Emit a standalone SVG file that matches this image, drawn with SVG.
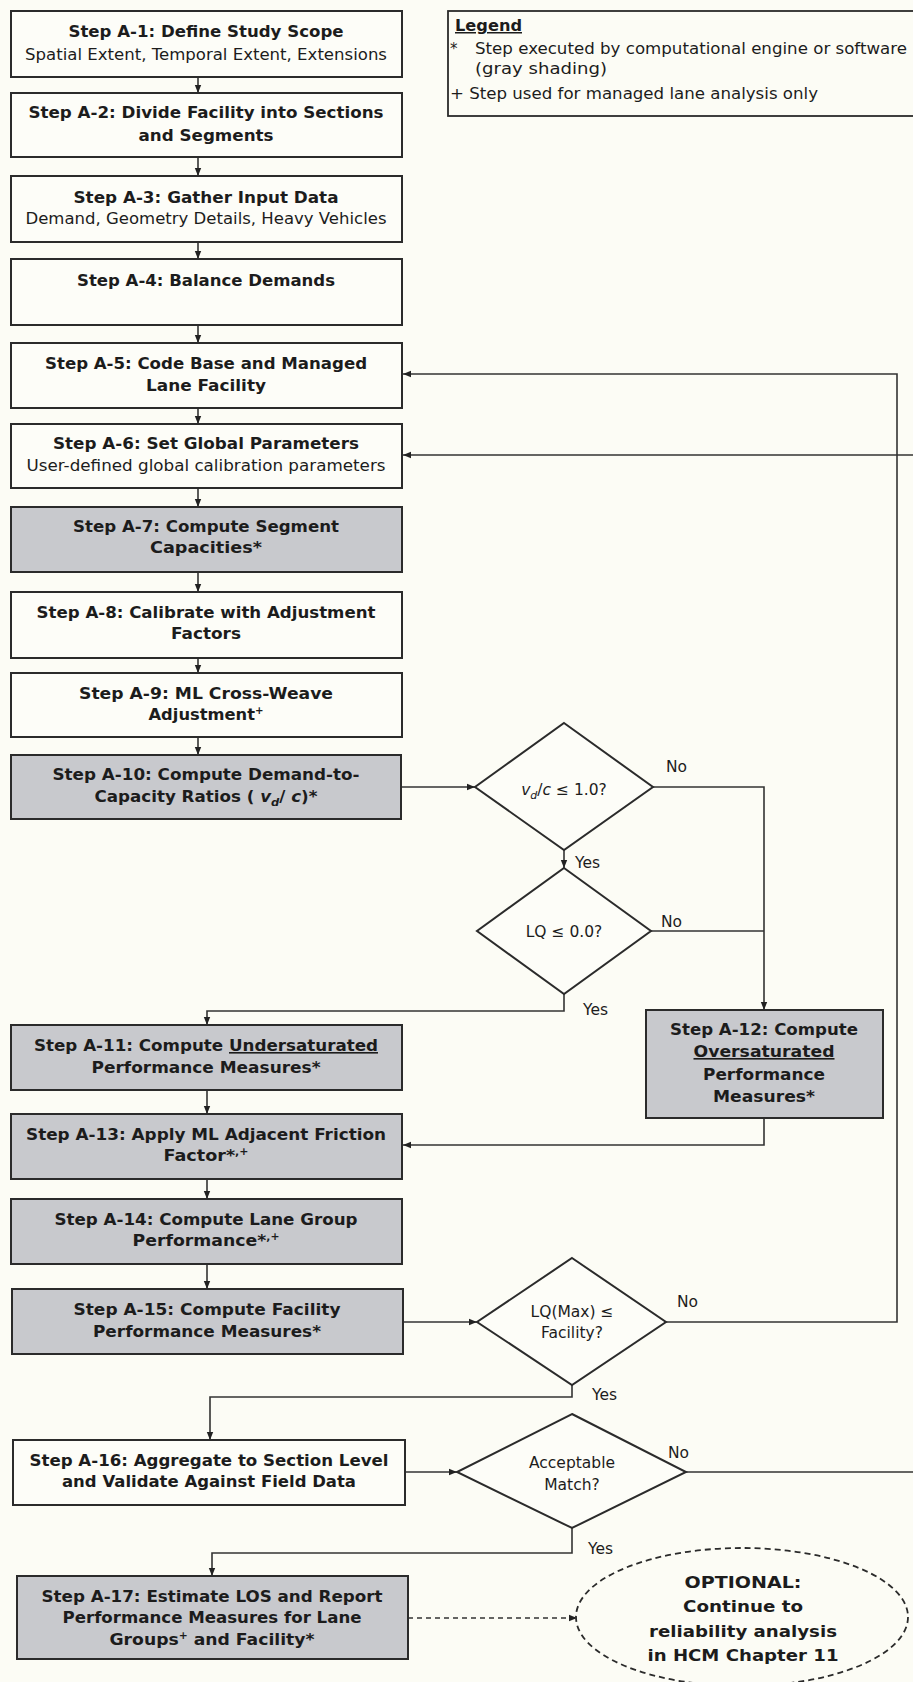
<svg xmlns="http://www.w3.org/2000/svg" width="913" height="1682" viewBox="0 0 913 1682">
<style>
.box{stroke:#2b2b2b;stroke-width:2}
.w{fill:#fdfdf8}
.g{fill:#c8c9cd}
.t{font-family:"DejaVu Sans",Verdana,sans-serif;font-size:16px;font-weight:bold;fill:#1c1c1c;text-anchor:middle}
.r{font-weight:normal;font-size:15px}
.lbl{font-family:"DejaVu Sans",Verdana,sans-serif;font-size:15.5px;fill:#1c1c1c}
.dt{font-family:"DejaVu Sans",Verdana,sans-serif;font-size:15.5px;fill:#1c1c1c;text-anchor:middle}
.lg{font-family:"DejaVu Sans",Verdana,sans-serif;font-size:15px;fill:#1c1c1c}
.conn{fill:none;stroke:#333;stroke-width:1.6}
.dash{stroke-dasharray:5 4}
.sup{font-size:10px}
.it{font-style:italic}
</style>
<defs>
<marker id="ah" viewBox="0 0 10 10" refX="10" refY="5" markerWidth="8" markerHeight="8" orient="auto" markerUnits="userSpaceOnUse">
<path d="M0,1 L10,5 L0,9 z" fill="#222"/>
</marker>
</defs>
<rect x="0" y="0" width="913" height="1682" fill="#fcfcf5"/>

<g id="legend">
<rect x="448" y="11" width="490" height="105" fill="none" stroke="#2b2b2b" stroke-width="1.8"/>
<text class="lg" x="455" y="31" font-weight="bold" text-decoration="underline" textLength="67" lengthAdjust="spacingAndGlyphs">Legend</text>
<text class="lg" x="450" y="54">*</text>
<text class="lg" x="475" y="54" textLength="432" lengthAdjust="spacingAndGlyphs">Step executed by computational engine or software</text>
<text class="lg" x="475" y="74" textLength="132" lengthAdjust="spacingAndGlyphs">(gray shading)</text>
<text class="lg" x="450" y="99" textLength="368" lengthAdjust="spacingAndGlyphs">+ Step used for managed lane analysis only</text>
</g>

<g id="connectors">
<path class="conn" d="M198,77 V93" marker-end="url(#ah)"/>
<path class="conn" d="M198,157 V176" marker-end="url(#ah)"/>
<path class="conn" d="M198,242 V259" marker-end="url(#ah)"/>
<path class="conn" d="M198,325 V343" marker-end="url(#ah)"/>
<path class="conn" d="M198,408 V424" marker-end="url(#ah)"/>
<path class="conn" d="M198,488 V507" marker-end="url(#ah)"/>
<path class="conn" d="M198,572 V592" marker-end="url(#ah)"/>
<path class="conn" d="M198,658 V673" marker-end="url(#ah)"/>
<path class="conn" d="M198,737 V755" marker-end="url(#ah)"/>
<path class="conn" d="M401,787 H475" marker-end="url(#ah)"/>
<path class="conn" d="M653,787 H764 V1010" marker-end="url(#ah)"/>
<path class="conn" d="M564,850 V868" marker-end="url(#ah)"/>
<path class="conn" d="M651,931 H764"/>
<path class="conn" d="M564,994 V1011 H207 V1025" marker-end="url(#ah)"/>
<path class="conn" d="M207,1090 V1114" marker-end="url(#ah)"/>
<path class="conn" d="M764,1118 V1145 H403" marker-end="url(#ah)"/>
<path class="conn" d="M207,1179 V1199" marker-end="url(#ah)"/>
<path class="conn" d="M207,1264 V1289" marker-end="url(#ah)"/>
<path class="conn" d="M403,1322 H477" marker-end="url(#ah)"/>
<path class="conn" d="M666,1322 H897 V374 H403" marker-end="url(#ah)"/>
<path class="conn" d="M686,1472 H918 V455 H403" marker-end="url(#ah)"/>
<path class="conn" d="M572,1385 V1397 H210 V1440" marker-end="url(#ah)"/>
<path class="conn" d="M405,1472 H457" marker-end="url(#ah)"/>
<path class="conn" d="M572,1528 V1553 H212 V1576" marker-end="url(#ah)"/>
<path class="conn dash" d="M408,1618 H577" marker-end="url(#ah)"/>
<text class="lbl" x="666" y="772">No</text>
<text class="lbl" x="575" y="868">Yes</text>
<text class="lbl" x="661" y="927">No</text>
<text class="lbl" x="583" y="1015">Yes</text>
<text class="lbl" x="677" y="1307">No</text>
<text class="lbl" x="592" y="1400">Yes</text>
<text class="lbl" x="668" y="1458">No</text>
<text class="lbl" x="588" y="1554">Yes</text>
</g>

<g id="a1">
<rect class="box w" x="11" y="11" width="391" height="66"/>
<text class="t" x="206" y="37" textLength="275" lengthAdjust="spacingAndGlyphs">Step A-1: Define Study Scope</text>
<text class="t r" x="206" y="60" textLength="362" lengthAdjust="spacingAndGlyphs">Spatial Extent, Temporal Extent, Extensions</text>
</g>
<g id="a2">
<rect class="box w" x="11" y="93" width="391" height="64"/>
<text class="t" x="206" y="118" textLength="355" lengthAdjust="spacingAndGlyphs">Step A-2: Divide Facility into Sections</text>
<text class="t" x="206" y="141" textLength="135" lengthAdjust="spacingAndGlyphs">and Segments</text>
</g>
<g id="a3">
<rect class="box w" x="11" y="176" width="391" height="66"/>
<text class="t" x="206" y="203" textLength="265" lengthAdjust="spacingAndGlyphs">Step A-3: Gather Input Data</text>
<text class="t r" x="206" y="224" textLength="361" lengthAdjust="spacingAndGlyphs">Demand, Geometry Details, Heavy Vehicles</text>
</g>
<g id="a4">
<rect class="box w" x="11" y="259" width="391" height="66"/>
<text class="t" x="206" y="286" textLength="258" lengthAdjust="spacingAndGlyphs">Step A-4: Balance Demands</text>
</g>
<g id="a5">
<rect class="box w" x="11" y="343" width="391" height="65"/>
<text class="t" x="206" y="369" textLength="322" lengthAdjust="spacingAndGlyphs">Step A-5: Code Base and Managed</text>
<text class="t" x="206" y="391" textLength="120" lengthAdjust="spacingAndGlyphs">Lane Facility</text>
</g>
<g id="a6">
<rect class="box w" x="11" y="424" width="391" height="64"/>
<text class="t" x="206" y="449" textLength="306" lengthAdjust="spacingAndGlyphs">Step A-6: Set Global Parameters</text>
<text class="t r" x="206" y="471" textLength="359" lengthAdjust="spacingAndGlyphs">User-defined global calibration parameters</text>
</g>
<g id="a7">
<rect class="box g" x="11" y="507" width="391" height="65"/>
<text class="t" x="206" y="532" textLength="266" lengthAdjust="spacingAndGlyphs">Step A-7: Compute Segment</text>
<text class="t" x="206" y="553" textLength="112" lengthAdjust="spacingAndGlyphs">Capacities*</text>
</g>
<g id="a8">
<rect class="box w" x="11" y="592" width="391" height="66"/>
<text class="t" x="206" y="618" textLength="339" lengthAdjust="spacingAndGlyphs">Step A-8: Calibrate with Adjustment</text>
<text class="t" x="206" y="639" textLength="70" lengthAdjust="spacingAndGlyphs">Factors</text>
</g>
<g id="a9">
<rect class="box w" x="11" y="673" width="391" height="64"/>
<text class="t" x="206" y="699" textLength="254" lengthAdjust="spacingAndGlyphs">Step A-9: ML Cross-Weave</text>
<text class="t" x="206" y="720" textLength="115" lengthAdjust="spacingAndGlyphs">Adjustment<tspan class="sup" dy="-6">+</tspan></text>
</g>
<g id="a10">
<rect class="box g" x="11" y="755" width="390" height="64"/>
<text class="t" x="206" y="780" textLength="307" lengthAdjust="spacingAndGlyphs">Step A-10: Compute Demand-to-</text>
<text class="t" x="206" y="802" textLength="223" lengthAdjust="spacingAndGlyphs">Capacity Ratios ( <tspan class="it">v</tspan><tspan class="it" font-size="11" dy="4">d</tspan><tspan dy="-4">/ </tspan><tspan class="it">c</tspan>)*</text>
</g>

<g id="d1">
<polygon class="box w" points="564,723 653,787 564,850 475,787"/>
<text class="dt" x="564" y="795"><tspan class="it">v</tspan><tspan class="it" font-size="11" dy="4">d</tspan><tspan dy="-4">/</tspan><tspan class="it">c</tspan> ≤ 1.0?</text>
</g>
<g id="d2">
<polygon class="box w" points="564,868 651,931 564,994 477,931"/>
<text class="dt" x="564" y="937">LQ ≤ 0.0?</text>
</g>

<g id="a11">
<rect class="box g" x="11" y="1025" width="391" height="65"/>
<text class="t" x="206" y="1051" textLength="344" lengthAdjust="spacingAndGlyphs">Step A-11: Compute <tspan text-decoration="underline">Undersaturated</tspan></text>
<text class="t" x="206" y="1073" textLength="229" lengthAdjust="spacingAndGlyphs">Performance Measures*</text>
</g>
<g id="a12">
<rect class="box g" x="646" y="1010" width="237" height="108"/>
<text class="t" x="764" y="1035" textLength="188" lengthAdjust="spacingAndGlyphs">Step A-12: Compute</text>
<text class="t" x="764" y="1057" textLength="141" lengthAdjust="spacingAndGlyphs" text-decoration="underline">Oversaturated</text>
<text class="t" x="764" y="1080" textLength="122" lengthAdjust="spacingAndGlyphs">Performance</text>
<text class="t" x="764" y="1102" textLength="102" lengthAdjust="spacingAndGlyphs">Measures*</text>
</g>
<g id="a13">
<rect class="box g" x="11" y="1114" width="391" height="65"/>
<text class="t" x="206" y="1140" textLength="360" lengthAdjust="spacingAndGlyphs">Step A-13: Apply ML Adjacent Friction</text>
<text class="t" x="206" y="1161" textLength="85" lengthAdjust="spacingAndGlyphs">Factor*<tspan class="sup" dy="-6">,+</tspan></text>
</g>
<g id="a14">
<rect class="box g" x="11" y="1199" width="391" height="65"/>
<text class="t" x="206" y="1225" textLength="303" lengthAdjust="spacingAndGlyphs">Step A-14: Compute Lane Group</text>
<text class="t" x="206" y="1246" textLength="147" lengthAdjust="spacingAndGlyphs">Performance*<tspan class="sup" dy="-6">,+</tspan></text>
</g>
<g id="a15">
<rect class="box g" x="12" y="1289" width="391" height="65"/>
<text class="t" x="207" y="1315" textLength="267" lengthAdjust="spacingAndGlyphs">Step A-15: Compute Facility</text>
<text class="t" x="207" y="1337" textLength="228" lengthAdjust="spacingAndGlyphs">Performance Measures*</text>
</g>
<g id="d3">
<polygon class="box w" points="572,1258 666,1322 572,1385 477,1322"/>
<text class="dt" x="572" y="1317">LQ(Max) ≤</text>
<text class="dt" x="572" y="1338">Facility?</text>
</g>
<g id="a16">
<rect class="box w" x="13" y="1440" width="392" height="65"/>
<text class="t" x="209" y="1466" textLength="359" lengthAdjust="spacingAndGlyphs">Step A-16: Aggregate to Section Level</text>
<text class="t" x="209" y="1487" textLength="294" lengthAdjust="spacingAndGlyphs">and Validate Against Field Data</text>
</g>
<g id="d4">
<polygon class="box w" points="572,1414 686,1472 572,1528 457,1472"/>
<text class="dt" x="572" y="1468">Acceptable</text>
<text class="dt" x="572" y="1490">Match?</text>
</g>
<g id="a17">
<rect class="box g" x="17" y="1576" width="391" height="83"/>
<text class="t" x="212" y="1602" textLength="341" lengthAdjust="spacingAndGlyphs">Step A-17: Estimate LOS and Report</text>
<text class="t" x="212" y="1623" textLength="299" lengthAdjust="spacingAndGlyphs">Performance Measures for Lane</text>
<text class="t" x="212" y="1645" textLength="205" lengthAdjust="spacingAndGlyphs">Groups<tspan class="sup" dy="-6">+</tspan><tspan dy="6"> and Facility*</tspan></text>
</g>
<g id="optional">
<ellipse cx="742" cy="1617" rx="166" ry="69" fill="none" stroke="#2b2b2b" stroke-width="1.8" stroke-dasharray="6 4"/>
<text class="t" x="743" y="1588" textLength="117" lengthAdjust="spacingAndGlyphs">OPTIONAL:</text>
<text class="t" x="743" y="1612" textLength="120" lengthAdjust="spacingAndGlyphs">Continue to</text>
<text class="t" x="743" y="1637" textLength="188" lengthAdjust="spacingAndGlyphs">reliability analysis</text>
<text class="t" x="743" y="1661" textLength="191" lengthAdjust="spacingAndGlyphs">in HCM Chapter 11</text>
</g>
</svg>
